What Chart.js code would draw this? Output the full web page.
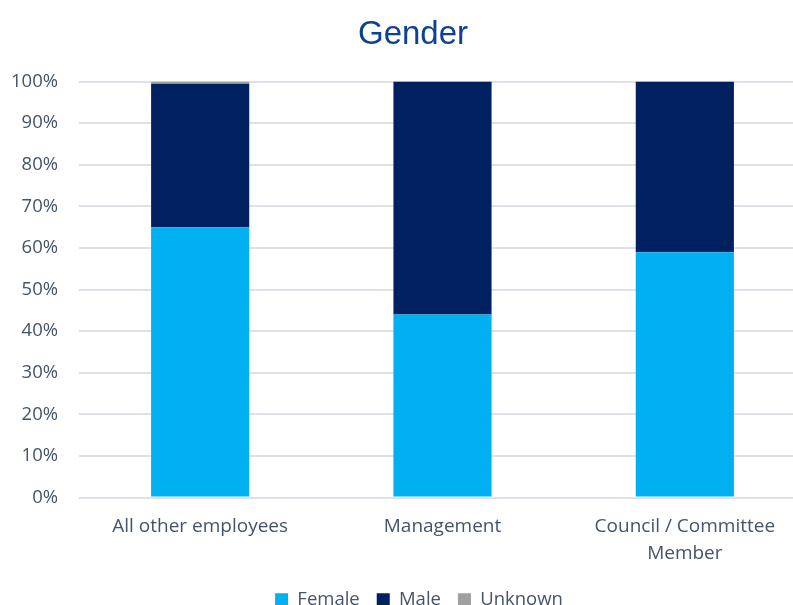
<!DOCTYPE html>
<html>
<head>
<meta charset="utf-8">
<script src="https://cdn.jsdelivr.net/npm/chart.js@4"></script>
<style>
  body { margin: 0; overflow: hidden; background: #fff; }
  #wrap { width: 806px; height: 621px; }
</style>
</head>
<body>
<div id="wrap"><canvas id="myChart"></canvas></div>
<script>
const categories = ['All other employees', 'Management', ['Council / Committee', 'Member']];

const female = [65, 44, 59];
const male = [34.5, 56, 41];
const unknown = [0.5, 0, 0];

const yTicks = [0, 10, 20, 30, 40, 50, 60, 70, 80, 90, 100];

const textColor = '#44546a';
const gridColor = '#dde1e8';

const ctx = document.querySelector('#myChart').getContext('2d');

// small position tweaks for title and legend, like the original
const nudge = {
    id: 'nudge',
    afterLayout(chart) {
        chart.titleBlock.left += 20;
        chart.legend.left += 32;
        chart.legend.top -= 2;
        chart.legend.bottom -= 2;
    },
};

const myChart = new Chart(ctx, {
    type: 'bar',
    data: {
        labels: categories,
        datasets: [
            { label: 'Female', data: female, backgroundColor: '#00b0f0' },
            { label: 'Male', data: male, backgroundColor: '#002060' },
            { label: 'Unknown', data: unknown, backgroundColor: '#a0a0a0' },
        ],
    },
    options: {
        responsive: true,
        maintainAspectRatio: false,
        animation: false,
        categoryPercentage: 1,
        barPercentage: 0.405,
        layout: { padding: { top: 15, left: 0, right: 0, bottom: 0 } },
        plugins: {
            title: {
                display: true,
                text: 'Gender',
                color: '#0d4291',
                font: { family: 'Liberation Sans', size: 33, weight: 'normal' },
                padding: { top: 0, bottom: 27 },
            },
            legend: {
                position: 'bottom',
                labels: {
                    color: textColor,
                    font: { family: 'Open Sans', size: 18.5 },
                    boxWidth: 13,
                    boxHeight: 13,
                    padding: 17,
                },
            },
            tooltip: { enabled: false },
        },
        scales: {
            x: {
                stacked: true,
                grid: { display: false },
                border: { display: false },
                ticks: {
                    color: textColor,
                    font: { family: 'Open Sans', size: 19, lineHeight: 1.42 },
                    maxRotation: 0,
                    padding: 8,
                },
            },
            y: {
                stacked: true,
                min: 0,
                max: 100,
                afterBuildTicks: (scale) => {
                    scale.ticks = yTicks.map(v => ({ value: v }));
                },
                afterFit: (scale) => { scale.width = 79; },
                grid: { color: gridColor, lineWidth: 2, drawTicks: false },
                border: { display: false },
                ticks: {
                    color: textColor,
                    font: { family: 'Open Sans', size: 18.5 },
                    padding: 21,
                    callback: (v) => v + '%',
                },
            },
        },
    },
    plugins: [nudge],
});
</script>
</body>
</html>
